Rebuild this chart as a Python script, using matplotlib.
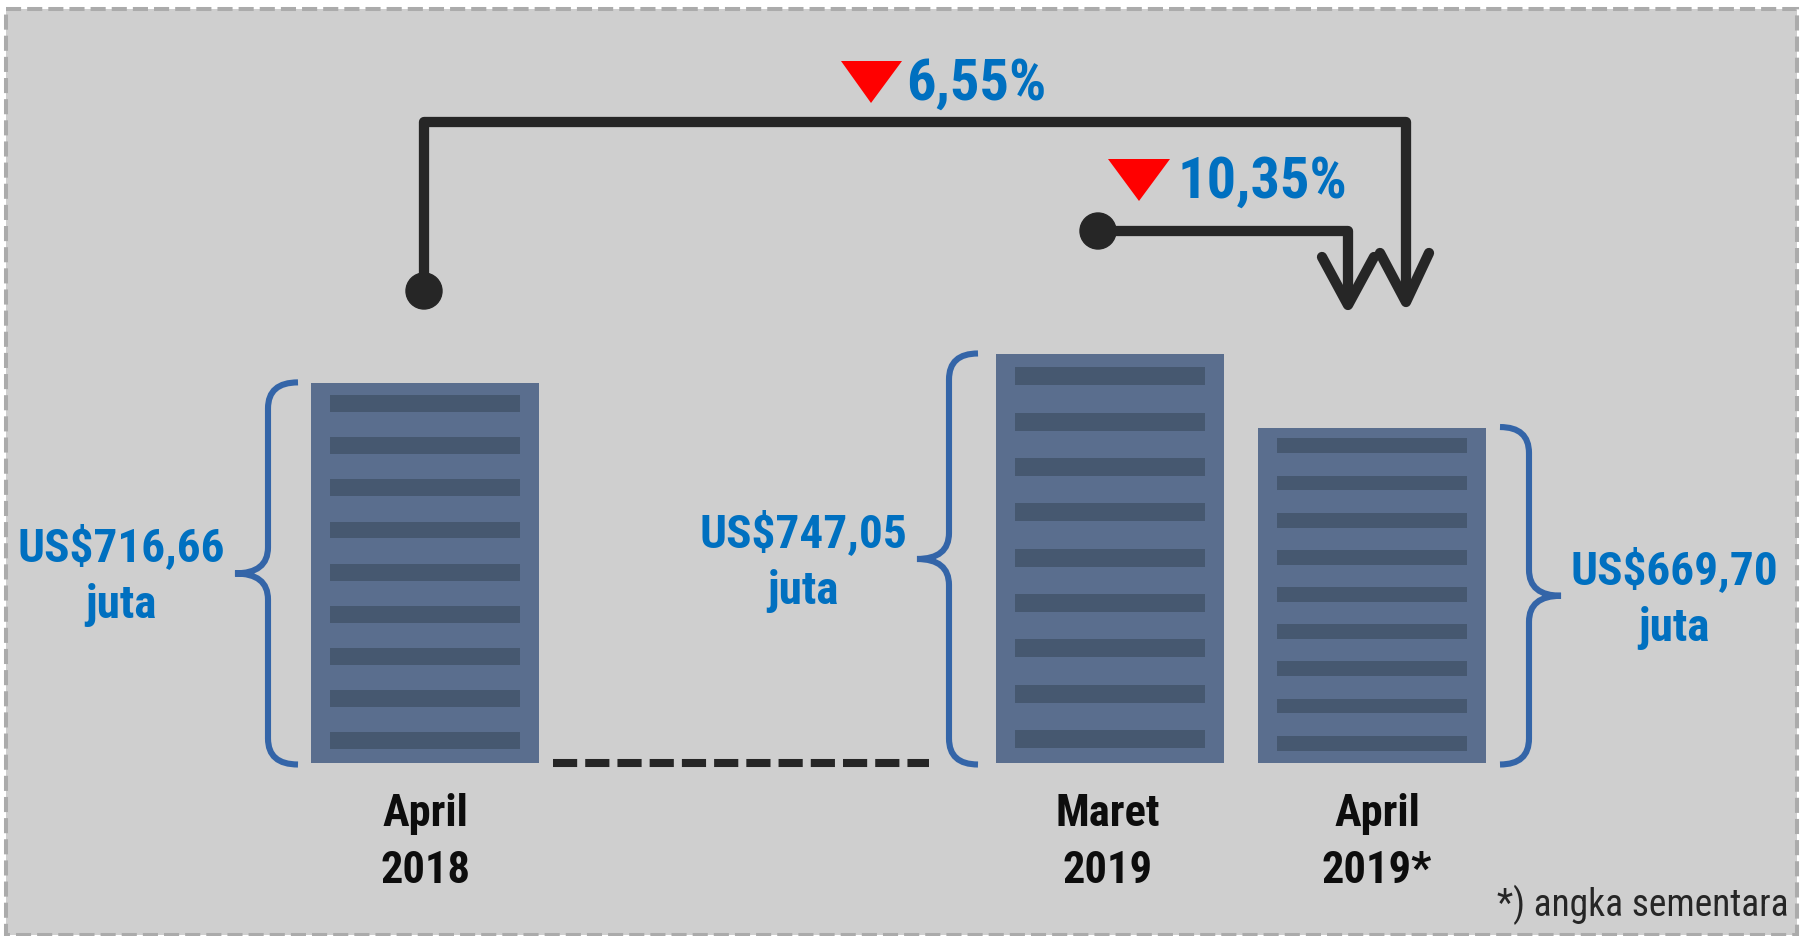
import matplotlib
matplotlib.use("Agg")
import numpy as np
import matplotlib.pyplot as plt
from matplotlib import font_manager
from matplotlib.patches import Rectangle, Polygon, Circle, PathPatch
from matplotlib.path import Path

# data
categories = ["April\n2018", "Maret\n2019", "April\n2019*"]
values = [716.66, 747.05, 669.70]
value_labels = ["US$716,66", "US$747,05", "US$669,70"]
value_unit = "juta"
changes = ["6,55%", "10,35%"]
footnote = "*) angka sementara"

# pick a narrow font if we have one
installed = {f.name for f in font_manager.fontManager.ttflist}
FONT = "DejaVu Sans"
for cand in ["Liberation Sans Narrow", "Roboto Condensed", "Open Sans Condensed", "DejaVu Sans"]:
    if cand in installed:
        FONT = cand
        break
plt.rcParams["font.family"] = [FONT, "DejaVu Sans"]

W, H = 1803, 936
BASE = 318.0        # value at the bar baseline
PX = 0.951          # pixels per million US$
Y0 = 762.5          # baseline, pixels from the top

BLUE = "#0070C0"
DARK = "#262626"
BRACE = "#3465A8"

fig = plt.figure(figsize=(W / 100, H / 100), dpi=100)
fig.patch.set_facecolor("white")

# annotation layer in pixel units (y down)
ov = fig.add_axes([0, 0, 1, 1], zorder=0)
ov.set_xlim(0, W)
ov.set_ylim(H, 0)
ov.axis("off")

# bar layer, y in million US$
bx = fig.add_axes([0, 0, 1, 1], zorder=1)
bx.set_xlim(0, W)
bx.set_ylim(BASE - (H - Y0) / PX, BASE + Y0 / PX)
bx.axis("off")

ov.add_patch(Rectangle((6, 8.5), W - 12, H - 10, facecolor="#CFCFCF",
                       edgecolor="#ABABAB", lw=2.9, linestyle=(0, (3.75, 1.5)),
                       zorder=0))

x_pos = [425, 1110, 1372]
bar_w = 228
heights = np.array(values) - BASE
bx.bar(x_pos, heights, bottom=BASE, width=bar_w, color="#5A6E8E", zorder=2)

# stripes inside each bar
n_str = 9
for x, v in zip(x_pos, values):
    pitch = (v - BASE) / n_str
    tops = v - 0.28 * pitch - pitch * np.arange(n_str)
    bx.bar([x] * n_str, [0.4 * pitch] * n_str, bottom=tops - 0.4 * pitch,
           width=bar_w - 38, color="#465870", zorder=3)


def to_px(v):
    disp = bx.transData.transform((0, v))
    return ov.transData.inverted().transform(disp)[1]


def brace(x_end, x_mid, x_tip, top, bottom, r=26):
    mid = (top + bottom) / 2
    verts = [(x_end, top), (x_mid, top), (x_mid, top + r),
             (x_mid, mid - r), (x_mid, mid), (x_tip, mid),
             (x_mid, mid), (x_mid, mid + r),
             (x_mid, bottom - r), (x_mid, bottom), (x_end, bottom)]
    codes = [Path.MOVETO, Path.CURVE3, Path.CURVE3,
             Path.LINETO, Path.CURVE3, Path.CURVE3,
             Path.CURVE3, Path.CURVE3,
             Path.LINETO, Path.CURVE3, Path.CURVE3]
    ov.add_patch(PathPatch(Path(verts, codes), fill=False, ec=BRACE, lw=4.4,
                           capstyle="butt", zorder=2))
    return mid


brace_x = [(298, 268, 235), (978, 949, 917), (1500, 1529, 1561)]
label_x = [121, 803, 1674]
for (xe, xm, xt), lx, v, lab in zip(brace_x, label_x, values, value_labels):
    top = to_px(v) - 1
    mid = brace(xe, xm, xt, top, Y0 + 2)
    ov.text(lx, mid - 12, lab, color=BLUE, fontsize=34, fontweight="bold",
            ha="center", va="baseline", zorder=4)
    ov.text(lx, mid + 45, value_unit, color=BLUE, fontsize=34,
            fontweight="bold", ha="center", va="baseline", zorder=4)

# category labels
label_shift = [0, -2, 5]
for x, dx, cat in zip(x_pos, label_shift, categories):
    l1, l2 = cat.split("\n")
    ov.text(x + dx, 826, l1, color="#0D0D0D", fontsize=32, fontweight="bold",
            ha="center", va="baseline")
    ov.text(x + dx, 883, l2, color="#0D0D0D", fontsize=32, fontweight="bold",
            ha="center", va="baseline")

# dashed link between april 2018 and maret 2019
ov.plot([553, 929], [Y0, Y0], color=DARK, lw=5.8, linestyle=(0, (3, 1)),
        solid_capstyle="butt", dash_capstyle="butt", zorder=2)

# change arrows
arrow_kw = dict(color=DARK, lw=7.4, solid_capstyle="round",
                solid_joinstyle="round", zorder=3)
ov.plot([424, 424, 1406, 1406], [291, 122, 122, 298], **arrow_kw)
ov.plot([1380, 1406, 1429], [253, 302, 253], **arrow_kw)
ov.add_patch(Circle((424, 291), 18, color=DARK, zorder=3))

ov.plot([1098, 1348, 1348], [231, 231, 302], **arrow_kw)
ov.plot([1322, 1348, 1374], [257, 305, 257], **arrow_kw)
ov.add_patch(Circle((1098, 231), 18, color=DARK, zorder=3))

tri = [[(841, 61), (902, 61), (871, 103)], [(1108, 159), (1170, 159), (1139, 201)]]
txt_xy = [(906, 84), (1178, 182)]
for pts, (tx, ty), lab in zip(tri, txt_xy, changes):
    ov.add_patch(Polygon(pts, closed=True, color="#FF0000", lw=0, zorder=3))
    ov.text(tx, ty, lab, color=BLUE, fontsize=42, fontweight="bold",
            ha="left", va="center", zorder=4)

ov.text(1789, 905, footnote, color=DARK, fontsize=27, ha="right", va="center")

fig.savefig("out.png", dpi=100, facecolor=fig.get_facecolor())
